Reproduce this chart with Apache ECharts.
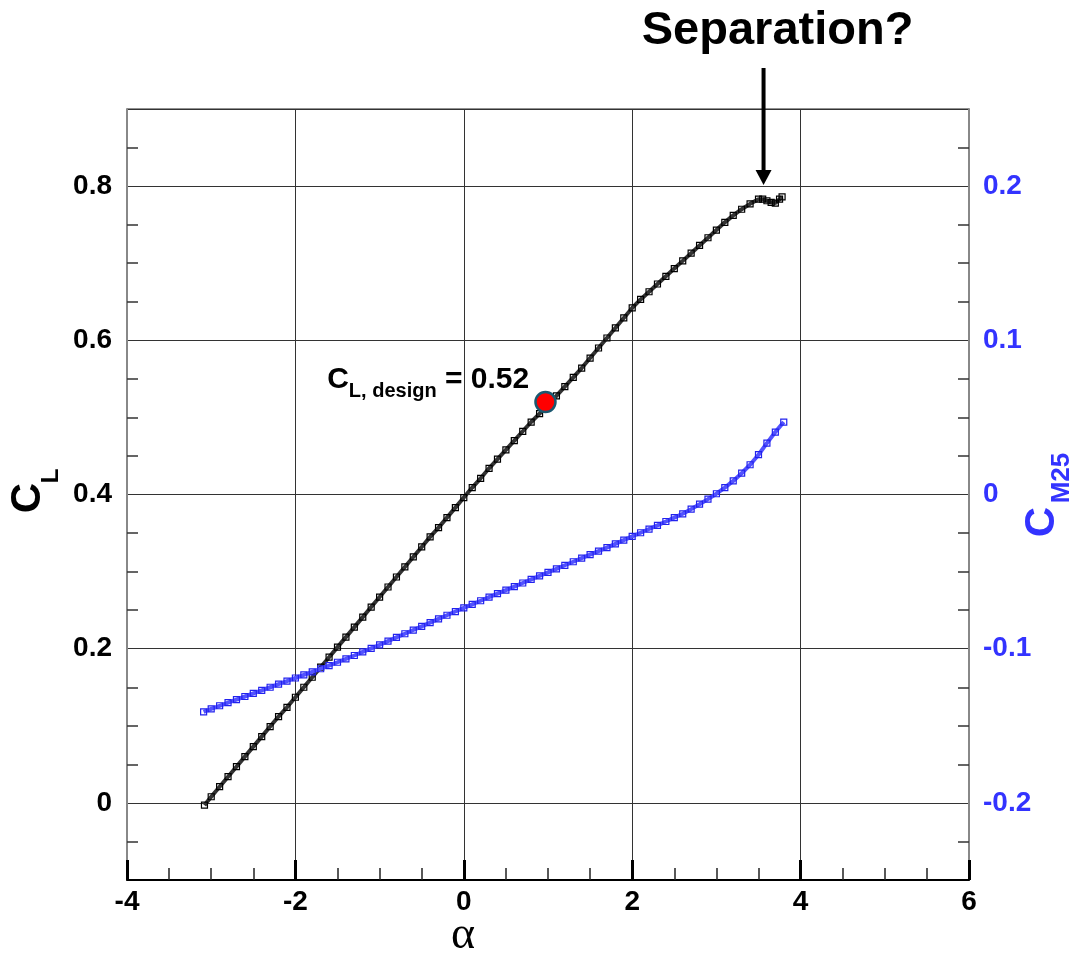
<!DOCTYPE html>
<html>
<head>
<meta charset="utf-8">
<title>CL and CM25 vs alpha</title>
<script src="https://cdn.jsdelivr.net/npm/echarts@6/dist/echarts.min.js"></script>
<style>
  html, body { margin: 0; padding: 0; background: #fff; }
  #chart { width: 1074px; height: 956px; }
</style>
</head>
<body>
<div id="chart"></div>
<script>
// Lift coefficient sweep (left axis)
const alphaCL = [-3.08, -3.0, -2.9, -2.8, -2.7, -2.6, -2.5, -2.4, -2.3, -2.2, -2.1,
  -2.0, -1.9, -1.8, -1.7, -1.6, -1.5, -1.4, -1.3, -1.2, -1.1,
  -1.0, -0.9, -0.8, -0.7, -0.6, -0.5, -0.4, -0.3, -0.2, -0.1,
  0.0, 0.1, 0.2, 0.3, 0.4, 0.5, 0.6, 0.7, 0.8, 0.9,
  1.0, 1.1, 1.2, 1.3, 1.4, 1.5, 1.6, 1.7, 1.8, 1.9,
  2.0, 2.1, 2.2, 2.3, 2.4, 2.5, 2.6, 2.7, 2.8, 2.9,
  3.0, 3.1, 3.2, 3.3, 3.4, 3.5, 3.55, 3.6, 3.65, 3.7, 3.75, 3.78];
const liftCL = [-0.003, 0.008, 0.021, 0.034, 0.047, 0.060, 0.073, 0.086, 0.099, 0.112, 0.124,
  0.137, 0.150, 0.163, 0.176, 0.189, 0.202, 0.215, 0.228, 0.241, 0.254,
  0.267, 0.280, 0.293, 0.306, 0.319, 0.332, 0.345, 0.357, 0.370, 0.383,
  0.396, 0.409, 0.421, 0.434, 0.446, 0.458, 0.470, 0.482, 0.494, 0.505,
  0.516, 0.528, 0.540, 0.552, 0.564, 0.577, 0.590, 0.603, 0.616, 0.629,
  0.642, 0.653, 0.663, 0.673, 0.683, 0.693, 0.703, 0.713, 0.723, 0.733,
  0.743, 0.753, 0.762, 0.770, 0.777, 0.783, 0.783, 0.781, 0.779, 0.778, 0.783, 0.786];

// Pitching moment about 25% chord (right axis)
const alphaCM = [-3.09, -3.0, -2.9, -2.8, -2.7, -2.6, -2.5, -2.4, -2.3, -2.2, -2.1,
  -2.0, -1.9, -1.8, -1.7, -1.6, -1.5, -1.4, -1.3, -1.2, -1.1,
  -1.0, -0.9, -0.8, -0.7, -0.6, -0.5, -0.4, -0.3, -0.2, -0.1,
  0.0, 0.1, 0.2, 0.3, 0.4, 0.5, 0.6, 0.7, 0.8, 0.9,
  1.0, 1.1, 1.2, 1.3, 1.4, 1.5, 1.6, 1.7, 1.8, 1.9,
  2.0, 2.1, 2.2, 2.3, 2.4, 2.5, 2.6, 2.7, 2.8, 2.9,
  3.0, 3.1, 3.2, 3.3, 3.4, 3.5, 3.6, 3.7, 3.8];
const momentCM = [-0.141, -0.139, -0.137, -0.135, -0.133, -0.131, -0.129, -0.127, -0.125, -0.123, -0.121,
  -0.119, -0.117, -0.115, -0.113, -0.111, -0.1088, -0.1066, -0.1044, -0.1021, -0.0998,
  -0.0975, -0.0951, -0.0927, -0.0903, -0.0879, -0.0855, -0.0831, -0.0807, -0.0783, -0.0759,
  -0.0735, -0.0712, -0.0689, -0.0666, -0.0643, -0.0620, -0.0597, -0.0574, -0.0551, -0.0528,
  -0.0505, -0.0482, -0.0459, -0.0436, -0.0413, -0.0390, -0.0367, -0.0344, -0.0320, -0.0296,
  -0.0272, -0.0248, -0.0224, -0.0200, -0.0175, -0.0150, -0.0125, -0.0095, -0.0063, -0.0030,
  0.0005, 0.0045, 0.0088, 0.0138, 0.0193, 0.0258, 0.0333, 0.0405, 0.0470];

// Design point and the suspected separation onset
const designPoint = [0.97, 0.52];
const separationAlpha = 3.56;
const separationCL = 0.8;

// Axis ranges
const alphaRange = [-4, 6];
const clRange = [-0.1, 0.9];
const cmRange = [-0.25, 0.25];

const FONT = "'Liberation Sans', Arial, Helvetica, sans-serif";
const SERIF = "'Liberation Serif', 'Times New Roman', serif";
const BLUE = '#3333ff';

const pairs = (xs, ys) => xs.map((x, i) => [x, ys[i]]);

const chart = echarts.init(document.getElementById('chart'), null, { renderer: 'canvas' });

const labelStyle = (color) => ({
  color: color, fontFamily: FONT, fontWeight: 'bold', fontSize: 28
});

chart.setOption({
  animation: false,
  backgroundColor: '#ffffff',
  grid: {
    left: 127, right: 105, top: 109, bottom: 76,
    show: true, borderColor: '#222', borderWidth: 1
  },
  xAxis: {
    type: 'value',
    min: alphaRange[0], max: alphaRange[1], interval: 2,
    axisLine: { onZero: false, lineStyle: { color: '#000', width: 2 } },
    axisTick: { show: true, inside: true, length: 20, lineStyle: { color: '#000', width: 3 } },
    minorTick: { show: true, splitNumber: 4, length: 12, lineStyle: { color: '#222', width: 1.5 } },
    axisLabel: Object.assign(labelStyle('#000'), { margin: 8 }),
    splitLine: { show: true, lineStyle: { color: '#333', width: 1 } }
  },
  yAxis: [
    {
      type: 'value', position: 'left',
      min: clRange[0], max: clRange[1], splitNumber: 5,
      axisLine: { show: true, onZero: false, lineStyle: { color: '#888', width: 2 } },
      axisTick: { show: false, inside: true },
      minorTick: { show: true, splitNumber: 4, length: 11, lineStyle: { color: '#333', width: 1.5 } },
      axisLabel: Object.assign(labelStyle('#000'), { margin: 15, showMinLabel: false, showMaxLabel: false }),
      splitLine: { show: true, lineStyle: { color: '#333', width: 1 } }
    },
    {
      type: 'value', position: 'right',
      min: cmRange[0], max: cmRange[1], splitNumber: 5,
      axisLine: { show: true, onZero: false, lineStyle: { color: '#888', width: 2 } },
      axisTick: { show: false, inside: true },
      minorTick: { show: true, splitNumber: 4, length: 11, lineStyle: { color: '#333', width: 1.5 } },
      axisLabel: Object.assign(labelStyle(BLUE), { margin: 14, showMinLabel: false, showMaxLabel: false }),
      splitLine: { show: false }
    }
  ],
  series: [
    {
      name: 'CL',
      type: 'line',
      yAxisIndex: 0,
      data: pairs(alphaCL, liftCL),
      showSymbol: true,
      symbol: 'rect',
      symbolSize: 6,
      itemStyle: { color: 'rgba(255,255,255,0)', borderColor: '#000', borderWidth: 1.2 },
      lineStyle: { color: '#333', width: 4 },
      z: 3
    },
    {
      name: 'CM25',
      type: 'line',
      yAxisIndex: 1,
      data: pairs(alphaCM, momentCM),
      showSymbol: true,
      symbol: 'rect',
      symbolSize: 6,
      itemStyle: { color: 'rgba(255,255,255,0)', borderColor: '#2222ee', borderWidth: 1.2 },
      lineStyle: { color: '#5252ff', width: 4 },
      z: 4
    },
    {
      name: 'design',
      type: 'scatter',
      yAxisIndex: 0,
      data: [designPoint],
      symbol: 'circle',
      symbolSize: 20,
      itemStyle: { color: '#ff0000', borderColor: '#1b5870', borderWidth: 2.5, opacity: 1 },
      label: {
        show: true,
        position: 'left',
        distance: 5,
        offset: [0, -22],
        formatter: () => '{c|C}{s|L, design}{c| = ' + designPoint[1].toFixed(2) + '}',
        rich: {
          c: { fontFamily: FONT, fontWeight: 'bold', fontSize: 30, color: '#000', lineHeight: 30 },
          s: { fontFamily: FONT, fontWeight: 'bold', fontSize: 20, color: '#000', lineHeight: 20, padding: [23, 0, 0, 0] }
        }
      },
      z: 6
    }
  ]
});

// Titles and the separation arrow, placed relative to the plotted axes
const tip = chart.convertToPixel({ xAxisIndex: 0, yAxisIndex: 0 }, [separationAlpha, separationCL]);
const ax = tip[0];
const ay = tip[1] - 1;

chart.setOption({
  graphic: [
    {
      type: 'text', x: ax + 14, y: 31,
      style: { text: 'Separation?', font: 'bold 47px ' + FONT, fill: '#000', align: 'center', verticalAlign: 'middle' }
    },
    {
      type: 'line',
      shape: { x1: ax, y1: 68, x2: ax, y2: ay - 13 },
      style: { stroke: '#000', lineWidth: 4 }
    },
    {
      type: 'polygon',
      shape: { points: [[ax - 8, ay - 15], [ax + 8, ay - 15], [ax, ay]] },
      style: { fill: '#000' }
    },
    {
      type: 'text', x: 463, y: 936,
      style: { text: 'α', font: '46px ' + SERIF, fill: '#000', align: 'center', verticalAlign: 'middle' }
    },
    {
      type: 'text', x: 28, y: 498, rotation: Math.PI / 2,
      style: { text: 'C', font: 'bold 42px ' + FONT, fill: '#000', align: 'center', verticalAlign: 'middle' }
    },
    {
      type: 'text', x: 51, y: 476, rotation: Math.PI / 2,
      style: { text: 'L', font: 'bold 24px ' + FONT, fill: '#000', align: 'center', verticalAlign: 'middle' }
    },
    {
      type: 'text', x: 1042, y: 522, rotation: Math.PI / 2,
      style: { text: 'C', font: 'bold 42px ' + FONT, fill: BLUE, align: 'center', verticalAlign: 'middle' }
    },
    {
      type: 'text', x: 1062, y: 478, rotation: Math.PI / 2,
      style: { text: 'M25', font: 'bold 26px ' + FONT, fill: BLUE, align: 'center', verticalAlign: 'middle' }
    }
  ]
});
</script>
</body>
</html>
